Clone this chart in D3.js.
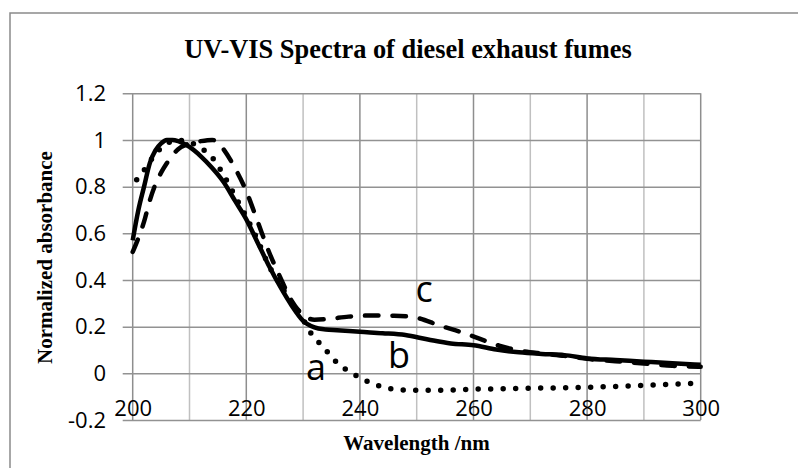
<!DOCTYPE html>
<html>
<head>
<meta charset="utf-8">
<script src="https://cdn.jsdelivr.net/npm/d3@7"></script>
<style>
  body { margin: 0; background: #fff; overflow: hidden; }
  svg { display: block; }
</style>
</head>
<body>
<div id="chart"></div>
<script>
// spectra (wavelength nm, normalized absorbance)
const seriesA_wl = [200.7, 202, 204, 206, 208, 210, 212, 214, 216, 218, 220, 222, 224, 226, 228, 229.5, 231, 232.5, 234, 236, 238, 240, 242, 244, 246, 248, 252, 256, 260, 265, 270, 275, 280, 285, 290, 295, 300];
const seriesA_abs = [0.83, 0.87, 0.94, 0.985, 0.998, 0.99, 0.965, 0.925, 0.85, 0.76, 0.67, 0.57, 0.46, 0.38, 0.30, 0.255, 0.185, 0.14, 0.10, 0.045, 0.01, -0.018, -0.042, -0.058, -0.068, -0.072, -0.073, -0.072, -0.068, -0.066, -0.064, -0.062, -0.060, -0.056, -0.052, -0.047, -0.042];

const seriesB_wl = [200, 201, 202, 203, 204, 205, 206, 207, 208, 210, 212, 214, 216, 218, 220, 222, 224, 226, 228, 230, 232, 234, 236, 240, 244, 248, 252, 256, 260, 264, 268, 272, 276, 280, 285, 290, 295, 300];
const seriesB_abs = [0.57, 0.70, 0.80, 0.90, 0.955, 0.985, 1.0, 1.0, 0.995, 0.97, 0.93, 0.88, 0.82, 0.74, 0.66, 0.56, 0.46, 0.37, 0.29, 0.225, 0.197, 0.188, 0.185, 0.178, 0.172, 0.164, 0.145, 0.128, 0.12, 0.102, 0.09, 0.083, 0.078, 0.064, 0.057, 0.05, 0.043, 0.037];

const seriesC_wl = [200, 201, 202, 203, 204, 205, 206, 207, 208, 210, 212, 214, 215, 216, 218, 220, 222, 224, 226, 228, 230, 232, 234, 238, 242, 246, 250, 254, 258, 262, 265, 268, 272, 276, 280, 285, 290, 295, 300];
const seriesC_abs = [0.52, 0.58, 0.65, 0.74, 0.81, 0.86, 0.90, 0.935, 0.96, 0.985, 0.995, 1.0, 0.99, 0.96, 0.88, 0.78, 0.65, 0.52, 0.41, 0.31, 0.25, 0.23, 0.232, 0.243, 0.248, 0.247, 0.238, 0.205, 0.175, 0.14, 0.115, 0.098, 0.085, 0.075, 0.062, 0.052, 0.042, 0.032, 0.028];

const yTicks = [-0.2, 0, 0.2, 0.4, 0.6, 0.8, 1, 1.2];
const xGridTicks = [200, 210, 220, 230, 240, 250, 260, 270, 280, 290, 300];
const xLabelTicks = [200, 220, 240, 260, 280, 300];

const W = 798, H = 468;
const plotL = 132.7, plotR = 700.7, plotT = 93.3, plotB = 420;

const svg = d3.select("#chart").append("svg")
  .attr("width", W).attr("height", H);

// outer chart frame (runs off the right and bottom edges)
svg.append("rect")
  .attr("x", 10).attr("y", 13)
  .attr("width", 820).attr("height", 480)
  .attr("fill", "#fff")
  .attr("stroke", "#8a8a8a")
  .attr("stroke-width", 1.5);

const x = d3.scaleLinear().domain([200, 300]).range([plotL, plotR]);
const y = d3.scaleLinear().domain([-0.2, 1.2]).range([plotB, plotT]);

// vertical grid
svg.append("g").selectAll("line")
  .data(xGridTicks)
  .join("line")
  .attr("x1", d => x(d)).attr("x2", d => x(d))
  .attr("y1", plotT).attr("y2", plotB)
  .attr("stroke", d => d % 20 === 0 ? "#8e8e8e" : "#c0c0c0")
  .attr("stroke-width", 1.5);

// y axis with horizontal grid (plain hyphen for negatives, like the source)
const yAxis = svg.append("g")
  .attr("transform", `translate(${plotL},0)`)
  .call(d3.axisLeft(y).tickValues(yTicks).tickSize(0).tickPadding(26.7)
    .tickFormat(d => String(+d.toFixed(1))));
yAxis.select(".domain").remove();
yAxis.selectAll(".tick line")
  .attr("x1", -10).attr("x2", plotR - plotL)
  .attr("stroke", "#929292").attr("stroke-width", 1.5);
yAxis.selectAll("text")
  .attr("font-family", "'Open Sans', sans-serif")
  .attr("font-size", 22).attr("fill", "#000");

// x labels sit just above the bottom gridline
const xAxis = svg.append("g")
  .attr("transform", `translate(0,${plotB})`)
  .call(d3.axisTop(x).tickValues(xLabelTicks).tickSize(0).tickPadding(4));
xAxis.select(".domain").remove();
xAxis.selectAll("text")
  .attr("font-family", "'Open Sans', sans-serif")
  .attr("font-size", 22).attr("fill", "#000");

const line = d3.line()
  .x(d => x(d[0]))
  .y(d => y(d[1]))
  .curve(d3.curveMonotoneX);

const zip = (a, b) => a.map((v, i) => [v, b[i]]);

// c - dashed
svg.append("path")
  .datum(zip(seriesC_wl, seriesC_abs))
  .attr("d", line)
  .attr("fill", "none").attr("stroke", "#000")
  .attr("stroke-width", 4.5)
  .attr("stroke-linecap", "round")
  .attr("stroke-dasharray", "13.5 14");

// a - round dots
svg.append("path")
  .datum(zip(seriesA_wl, seriesA_abs))
  .attr("d", line)
  .attr("fill", "none").attr("stroke", "#000")
  .attr("stroke-width", 5.5)
  .attr("stroke-linecap", "round")
  .attr("stroke-dasharray", "0 12.5");

// b - solid
svg.append("path")
  .datum(zip(seriesB_wl, seriesB_abs))
  .attr("d", line)
  .attr("fill", "none").attr("stroke", "#000")
  .attr("stroke-width", 4.5)
  .attr("stroke-linejoin", "round");

// curve letters
const letters = [
  { t: "a", x: 316, y: 380 },
  { t: "b", x: 399, y: 368 },
  { t: "c", x: 424, y: 301.5 }
];
svg.append("g").selectAll("text")
  .data(letters)
  .join("text")
  .attr("x", d => d.x).attr("y", d => d.y)
  .attr("text-anchor", "middle")
  .attr("font-family", "'Open Sans', sans-serif")
  .attr("font-size", 36)
  .text(d => d.t);

// titles
svg.append("text")
  .attr("x", 408).attr("y", 58)
  .attr("text-anchor", "middle")
  .attr("font-family", "'Liberation Serif', 'Times New Roman', serif")
  .attr("font-weight", "bold")
  .attr("font-size", 26.4)
  .text("UV-VIS Spectra of diesel exhaust fumes");

svg.append("text")
  .attr("x", 416.5).attr("y", 450)
  .attr("text-anchor", "middle")
  .attr("font-family", "'Liberation Serif', 'Times New Roman', serif")
  .attr("font-weight", "bold")
  .attr("font-size", 21)
  .text("Wavelength /nm");

svg.append("text")
  .attr("transform", "translate(52,257.5) rotate(-90)")
  .attr("text-anchor", "middle")
  .attr("font-family", "'Liberation Serif', 'Times New Roman', serif")
  .attr("font-weight", "bold")
  .attr("font-size", 21)
  .text("Normalized absorbance");
</script>
</body>
</html>
